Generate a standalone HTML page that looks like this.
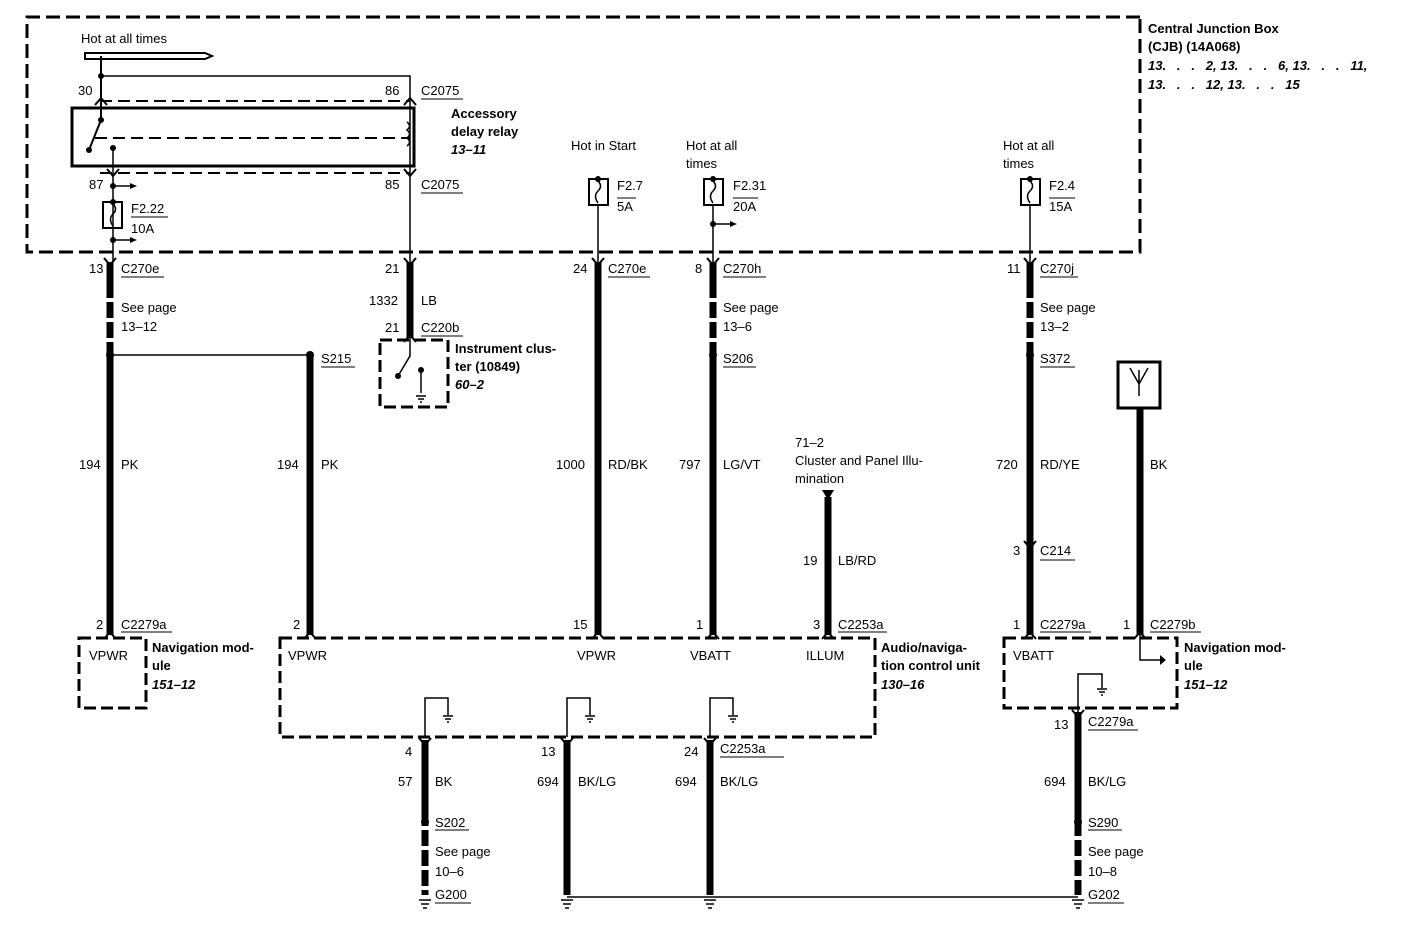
<!DOCTYPE html>
<html><head><meta charset="utf-8"><style>
html,body{margin:0;padding:0;background:#fff;}
svg{display:block;}
text{font-family:"Liberation Sans",Arial,sans-serif;font-size:13px;fill:#000;}
.b{font-weight:bold;}
.bi{font-weight:bold;font-style:italic;}
</style></head><body>
<svg width="1408" height="926" viewBox="0 0 1408 926" xmlns="http://www.w3.org/2000/svg">
<g fill="none" stroke="#000">
<path d="M1140 17 H27 V252 H1140 V17" stroke-width="3" stroke-dasharray="14,6"/>
<rect x="72" y="108" width="342" height="58" stroke-width="3"/>
<path d="M100 101 H410" stroke-width="2" stroke-dasharray="12,6"/>
<path d="M100 173 H410" stroke-width="2" stroke-dasharray="12,6"/>
<path d="M95 138 H410" stroke-width="2" stroke-dasharray="12,6"/>
<path d="M85 53 H205 L212 56 L205 59 H85 Z" stroke-width="2"/>
<path d="M101 56 V120 L89 150" stroke-width="2"/>
<path d="M101 76 H410 V262" stroke-width="1.5"/>
<path d="M113 148 V240 M113 186 H130 M113 240 H130 M113 262 V240" stroke-width="1.5"/>
<path d="M407 122 q5 4 0 8 q5 4 0 8 q5 4 0 8" stroke-width="1.5"/>
<rect x="103" y="202" width="19" height="26" stroke-width="2"/>
<path d="M113 204 q5 5 0 10 q-5 5 0 12" stroke-width="1.5"/>
<rect x="589" y="179" width="19" height="26" stroke-width="2"/>
<path d="M598 181 q5 5 0 10 q-5 5 0 12 M598 205 V262" stroke-width="1.5"/>
<rect x="704" y="179" width="19" height="26" stroke-width="2"/>
<path d="M713 181 q5 5 0 10 q-5 5 0 12 M713 205 V262 M713 224 H730" stroke-width="1.5"/>
<rect x="1021" y="179" width="19" height="26" stroke-width="2"/>
<path d="M1030 181 q5 5 0 10 q-5 5 0 12 M1030 205 V262" stroke-width="1.5"/>
<g stroke-width="7">
<path d="M110 262 V282"/><path d="M110 282 V355" stroke-dasharray="16,4"/><path d="M110 355 V635"/>
<path d="M310 355 V635"/>
<path d="M410 262 V338"/>
<path d="M598 262 V635"/>
<path d="M713 262 V282"/><path d="M713 282 V355" stroke-dasharray="16,4"/><path d="M713 355 V635"/>
<path d="M828 497 V635"/>
<path d="M1030 262 V282"/><path d="M1030 282 V355" stroke-dasharray="16,4"/><path d="M1030 355 V635"/>
<path d="M1140 408 V635"/>
<path d="M425 740 V810"/><path d="M425 810 V895" stroke-dasharray="16,4"/>
<path d="M567 740 V895"/>
<path d="M710 740 V895"/>
<path d="M1078 712 V820"/><path d="M1078 820 V895" stroke-dasharray="16,4"/>
</g>
<path d="M110 355 H310" stroke-width="1.5"/>
<path d="M567 897 H1078" stroke-width="1.5"/>
<g stroke-width="3" stroke-dasharray="12,5">
<rect x="380" y="340" width="68" height="67"/>
<rect x="79" y="638" width="67" height="70"/>
<rect x="280" y="638" width="595" height="99"/>
<rect x="1004" y="638" width="173" height="70"/>
</g>
<rect x="1118" y="362" width="42" height="46" stroke-width="3"/>
<path d="M1139 370 V396 M1130 368 L1139 384 L1148 368" stroke-width="1.5"/>
<path d="M410 338 V356 L398 376 M421 370 V393" stroke-width="1.5"/>
<path d="M425 737 V698 H448 V715 M567 737 V698 H590 V715 M710 737 V698 H733 V715 M1078 712 V674 H1102 V688 M1140 635 V660 H1160" stroke-width="1.5"/>
<!-- connector chevrons -->
<g stroke-width="2">
<path d="M104 258 L110 265 L116 258 M404 258 L410 265 L416 258 M592 258 L598 265 L604 258 M707 258 L713 265 L719 258 M1024 258 L1030 265 L1036 258"/>
<path d="M107 169 L113 176 L119 169 M404 169 L410 176 L416 169"/>
<path d="M95 105 L101 98 L107 105 M404 105 L410 98 L416 105"/>
<path d="M404 342 L410 335 L416 342"/>
<path d="M1024 541 L1030 548 L1036 541"/>
<path d="M104 639 L110 632 L116 639 M304 639 L310 632 L316 639 M592 639 L598 632 L604 639 M707 639 L713 632 L719 639 M822 639 L828 632 L834 639 M1024 639 L1030 632 L1036 639 M1134 639 L1140 632 L1146 639"/>
<path d="M419 738 L425 745 L431 738 M561 738 L567 745 L573 738 M704 738 L710 745 L716 738 M1072 710 L1078 717 L1084 710"/>
</g>
</g>
<g fill="#000">
<circle cx="101" cy="76" r="3"/><circle cx="101" cy="120" r="3"/><circle cx="89" cy="150" r="3"/><circle cx="113" cy="148" r="3"/>
<circle cx="113" cy="186" r="3"/><circle cx="113" cy="202" r="3"/><circle cx="113" cy="240" r="3"/>
<path d="M130 183 L137 186 L130 189Z M130 237 L137 240 L130 243Z M730 221 L737 224 L730 227Z"/>
<circle cx="598" cy="179" r="3"/><circle cx="713" cy="179" r="3"/><circle cx="1030" cy="179" r="3"/><circle cx="713" cy="224" r="3"/>
<circle cx="110" cy="355" r="4"/><circle cx="310" cy="355" r="4"/><circle cx="713" cy="355" r="4"/><circle cx="1030" cy="355" r="4"/>
<circle cx="425" cy="822" r="4"/><circle cx="1078" cy="822" r="4"/>
<circle cx="398" cy="376" r="3"/><circle cx="421" cy="370" r="3"/>
<path d="M822 490 H834 L828 500Z"/>
<path d="M1160 655 L1166 660 L1160 665Z"/>
</g>
<g stroke="#000" stroke-width="1.5">
<path d="M416 396 h10 M418 399 h6 M420 402 h2"/>
<path d="M443 716 h10 M445 719 h6 M447 722 h2"/>
<path d="M585 716 h10 M587 719 h6 M589 722 h2"/>
<path d="M728 716 h10 M730 719 h6 M732 722 h2"/>
<path d="M1097 689 h10 M1099 692 h6 M1101 695 h2"/>
<path d="M419 900 h12 M421 904 h8 M423 908 h4"/>
<path d="M561 900 h12 M563 904 h8 M565 908 h4"/>
<path d="M704 900 h12 M706 904 h8 M708 908 h4"/>
<path d="M1072 900 h12 M1074 904 h8 M1076 908 h4"/>
</g>
<g stroke="#000" stroke-width="1">
<path d="M421 99 H463 M421 193 H463 M131 217 H168 M617 198 H636 M733 198 H758 M1049 198 H1075"/>
<path d="M121 277 H164 M608 277 H650 M723 277 H766 M1040 277 H1078 M421 336 H463 M321 367 H355 M723 367 H756 M1040 367 H1075"/>
<path d="M1040 560 H1075 M121 632 H172 M1040 632 H1091 M1150 632 H1201 M838 632 H887 M1088 730 H1138"/>
<path d="M720 757 H784 M435 830 H469 M435 903 H471 M1088 830 H1122 M1088 903 H1124"/>
</g>
<g>
<text x="81" y="43">Hot at all times</text>
<text x="78" y="95">30</text><text x="385" y="95">86</text><text x="421" y="95">C2075</text>
<text class="b" x="451" y="118">Accessory</text><text class="b" x="451" y="136">delay relay</text><text class="bi" x="451" y="154">13–11</text>
<text x="89" y="189">87</text><text x="385" y="189">85</text><text x="421" y="189">C2075</text>
<text x="131" y="213">F2.22</text><text x="131" y="233">10A</text>
<text x="571" y="150">Hot in Start</text>
<text x="686" y="150">Hot at all</text><text x="686" y="168">times</text>
<text x="1003" y="150">Hot at all</text><text x="1003" y="168">times</text>
<text x="617" y="190">F2.7</text><text x="617" y="211">5A</text>
<text x="733" y="190">F2.31</text><text x="733" y="211">20A</text>
<text x="1049" y="190">F2.4</text><text x="1049" y="211">15A</text>
<text class="b" x="1148" y="33">Central Junction Box</text>
<text class="b" x="1148" y="51">(CJB) (14A068)</text>
<text class="bi" x="1148" y="70" xml:space="preserve">13.   .   .   2, 13.   .   .   6, 13.   .   .   11,</text>
<text class="bi" x="1148" y="89" xml:space="preserve">13.   .   .   12, 13.   .   .   15</text>
<text x="89" y="273">13</text><text x="121" y="273">C270e</text>
<text x="385" y="273">21</text>
<text x="573" y="273">24</text><text x="608" y="273">C270e</text>
<text x="695" y="273">8</text><text x="723" y="273">C270h</text>
<text x="1007" y="273">11</text><text x="1040" y="273">C270j</text>
<text x="121" y="312">See page</text><text x="121" y="331">13–12</text>
<text x="369" y="305">1332</text><text x="421" y="305">LB</text>
<text x="385" y="332">21</text><text x="421" y="332">C220b</text>
<text x="723" y="312">See page</text><text x="723" y="331">13–6</text>
<text x="1040" y="312">See page</text><text x="1040" y="331">13–2</text>
<text x="321" y="363">S215</text><text x="723" y="363">S206</text><text x="1040" y="363">S372</text>
<text class="b" x="455" y="353">Instrument clus-</text><text class="b" x="455" y="371">ter (10849)</text><text class="bi" x="455" y="389">60–2</text>
<text x="79" y="469">194</text><text x="121" y="469">PK</text>
<text x="277" y="469">194</text><text x="321" y="469">PK</text>
<text x="556" y="469">1000</text><text x="608" y="469">RD/BK</text>
<text x="679" y="469">797</text><text x="723" y="469">LG/VT</text>
<text x="996" y="469">720</text><text x="1040" y="469">RD/YE</text>
<text x="1150" y="469">BK</text>
<text x="795" y="447">71–2</text><text x="795" y="465">Cluster and Panel Illu-</text><text x="795" y="483">mination</text>
<text x="803" y="565">19</text><text x="838" y="565">LB/RD</text>
<text x="1013" y="555">3</text><text x="1040" y="555">C214</text>
<text x="96" y="629">2</text><text x="121" y="629">C2279a</text>
<text x="293" y="629">2</text>
<text x="573" y="629">15</text>
<text x="696" y="629">1</text>
<text x="813" y="629">3</text><text x="838" y="629">C2253a</text>
<text x="1013" y="629">1</text><text x="1040" y="629">C2279a</text>
<text x="1123" y="629">1</text><text x="1150" y="629">C2279b</text>
<text x="89" y="660">VPWR</text>
<text class="b" x="152" y="652">Navigation mod-</text><text class="b" x="152" y="670">ule</text><text class="bi" x="152" y="689">151–12</text>
<text x="288" y="660">VPWR</text><text x="577" y="660">VPWR</text><text x="690" y="660">VBATT</text><text x="806" y="660">ILLUM</text>
<text class="b" x="881" y="652">Audio/naviga-</text><text class="b" x="881" y="670">tion control unit</text><text class="bi" x="881" y="689">130–16</text>
<text x="1013" y="660">VBATT</text>
<text class="b" x="1184" y="652">Navigation mod-</text><text class="b" x="1184" y="670">ule</text><text class="bi" x="1184" y="689">151–12</text>
<text x="1054" y="729">13</text><text x="1088" y="726">C2279a</text>
<text x="405" y="756">4</text><text x="541" y="756">13</text><text x="684" y="756">24</text><text x="720" y="753">C2253a</text>
<text x="398" y="786">57</text><text x="435" y="786">BK</text>
<text x="537" y="786">694</text><text x="578" y="786">BK/LG</text>
<text x="675" y="786">694</text><text x="720" y="786">BK/LG</text>
<text x="1044" y="786">694</text><text x="1088" y="786">BK/LG</text>
<text x="435" y="827">S202</text><text x="1088" y="827">S290</text>
<text x="435" y="856">See page</text><text x="435" y="876">10–6</text>
<text x="1088" y="856">See page</text><text x="1088" y="876">10–8</text>
<text x="435" y="899">G200</text><text x="1088" y="899">G202</text>
</g>
</svg>
</body></html>
